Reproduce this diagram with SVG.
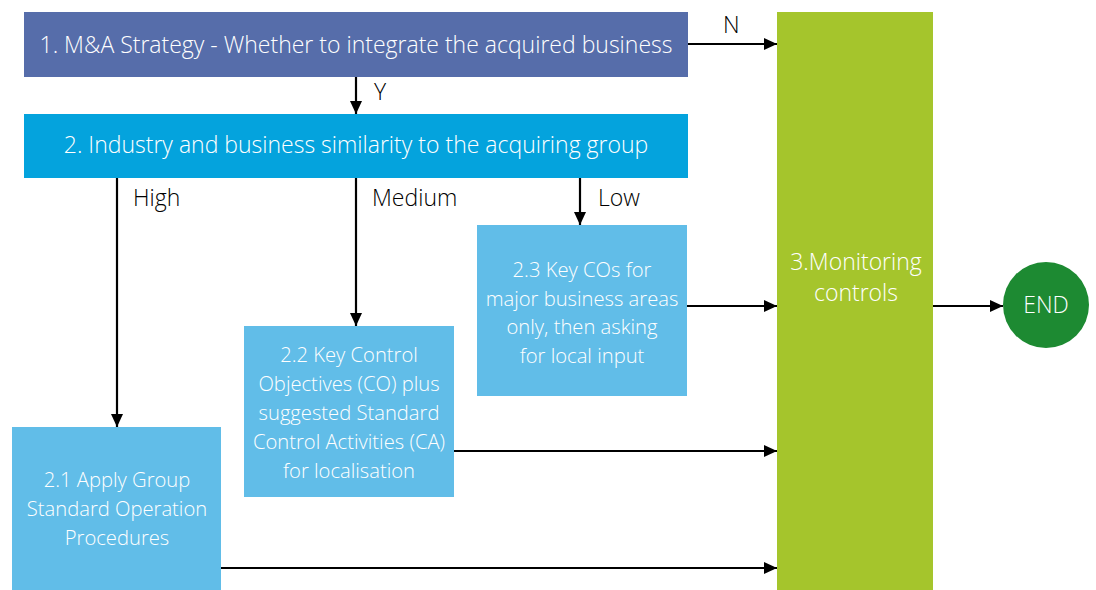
<svg xmlns="http://www.w3.org/2000/svg" width="1096" height="590" viewBox="0 0 1096 590">
<defs>
<marker id="ah" viewBox="0 0 10 10" refX="10" refY="5" markerWidth="13" markerHeight="12" markerUnits="userSpaceOnUse" orient="auto" preserveAspectRatio="none">
<path d="M0,0 L10,5 L0,10 z" fill="#000"/>
</marker>
<style>
.t{font-family:"Open Sans","Noto Sans",sans-serif;font-weight:300;fill:#fff;text-anchor:middle;font-size:20.2px}
.big{font-size:23px}
.lbl{font-family:"Open Sans","Noto Sans",sans-serif;font-weight:300;fill:#000;font-size:23px}
.c{stroke:#000;stroke-width:2.2;fill:none;marker-end:url(#ah)}
</style>
</defs>
<rect width="1096" height="590" fill="#fff"/>
<g id="n1">
<rect x="24" y="12" width="664" height="65" fill="#566DAA"/>
<text class="t big" x="356" y="53">1. M&amp;A Strategy - Whether to integrate the acquired business</text>
</g>
<g id="n2">
<rect x="24" y="114" width="664" height="64" fill="#04A3DD"/>
<text class="t big" x="356" y="153">2. Industry and business similarity to the acquiring group</text>
</g>
<g id="n3">
<rect x="777" y="12" width="156" height="578" fill="#A5C52C"/>
<text class="t big" x="856" y="270">3.Monitoring</text>
<text class="t big" x="856" y="301">controls</text>
</g>
<g id="n23">
<rect x="477" y="225" width="210" height="171" fill="#61BDE8"/>
<text class="t" x="582" y="277">2.3 Key COs for</text>
<text class="t" x="582" y="306">major business areas</text>
<text class="t" x="582" y="334">only, then asking</text>
<text class="t" x="582" y="363">for local input</text>
</g>
<g id="n22">
<rect x="244" y="326" width="210" height="171" fill="#61BDE8"/>
<text class="t" x="349" y="362">2.2 Key Control</text>
<text class="t" x="349" y="391">Objectives (CO) plus</text>
<text class="t" x="349" y="420">suggested Standard</text>
<text class="t" x="349" y="449">Control Activities (CA)</text>
<text class="t" x="349" y="478">for localisation</text>
</g>
<g id="n21">
<rect x="12" y="427" width="209" height="163" fill="#61BDE8"/>
<text class="t" x="117" y="487">2.1 Apply Group</text>
<text class="t" x="117" y="516">Standard Operation</text>
<text class="t" x="117" y="545">Procedures</text>
</g>
<g id="end">
<circle cx="1046" cy="305" r="43" fill="#1D8A32"/>
<text class="t big" x="1046" y="313">END</text>
</g>
<g id="connectors">
<line class="c" x1="688" y1="44" x2="777" y2="44"/>
<line class="c" x1="356" y1="77" x2="356" y2="114"/>
<line class="c" x1="117" y1="178" x2="117" y2="427"/>
<line class="c" x1="356" y1="178" x2="356" y2="326"/>
<line class="c" x1="580" y1="178" x2="580" y2="225"/>
<line class="c" x1="687" y1="306" x2="777" y2="306"/>
<line class="c" x1="454" y1="451" x2="777" y2="451"/>
<line class="c" x1="221" y1="568" x2="777" y2="568"/>
<line class="c" x1="933" y1="306" x2="1003" y2="306"/>
<text class="lbl" x="723" y="33">N</text>
<text class="lbl" x="374" y="100">Y</text>
<text class="lbl" x="133" y="206">High</text>
<text class="lbl" x="372" y="206">Medium</text>
<text class="lbl" x="598" y="206">Low</text>
</g>
</svg>
